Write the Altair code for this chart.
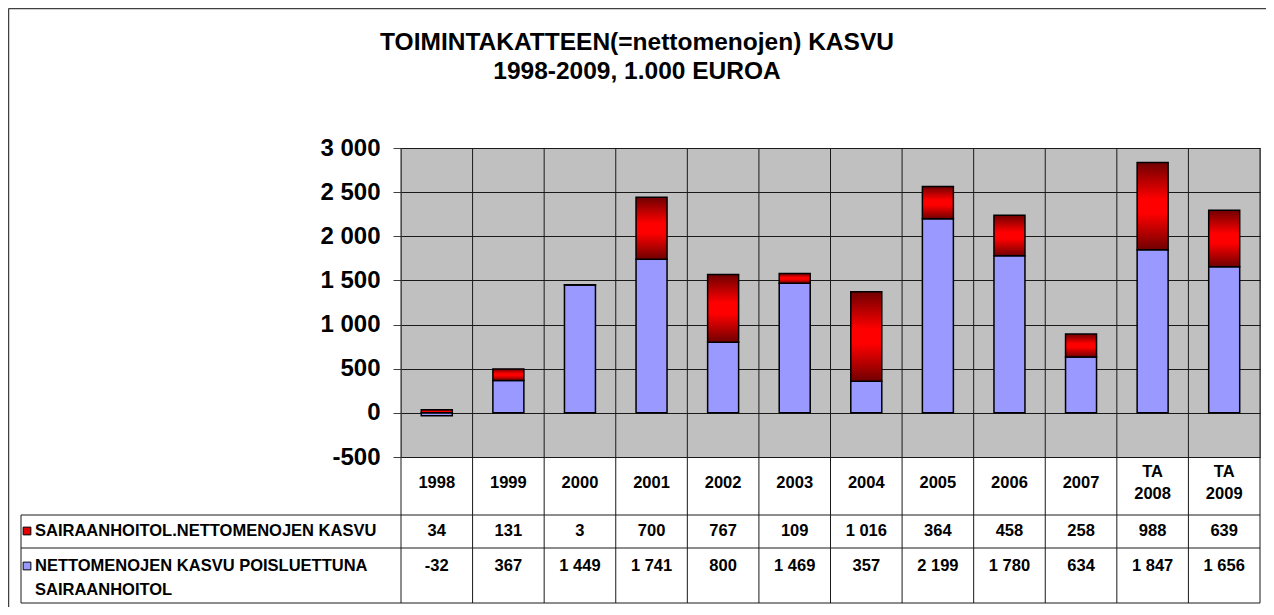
import altair as alt
import pandas as pd

# ---- data -------------------------------------------------------------
categories = ["1998", "1999", "2000", "2001", "2002", "2003", "2004",
              "2005", "2006", "2007", "TA 2008", "TA 2009"]
header_labels = ["1998", "1999", "2000", "2001", "2002", "2003", "2004",
                 "2005", "2006", "2007", "TA\n2008", "TA\n2009"]
sairaanhoito = [34, 131, 3, 700, 767, 109, 1016, 364, 458, 258, 988, 639]
muut = [-32, 367, 1449, 1741, 800, 1469, 357, 2199, 1780, 634, 1847, 1656]
series_names = ["SAIRAANHOITOL.NETTOMENOJEN KASVU",
                "NETTOMENOJEN KASVU POISLUETTUNA\nSAIRAANHOITOL"]
title_lines = ["TOIMINTAKATTEEN(=nettomenojen) KASVU", "1998-2009, 1.000 EUROA"]
y_ticks = [-500, 0, 500, 1000, 1500, 2000, 2500, 3000]


def fmt(v):
    return f"{v:,}".replace(",", " ")


df = pd.DataFrame({
    "cat": categories,
    "hdr": header_labels,
    "red": sairaanhoito,
    "blue": muut,
    "red_lbl": [fmt(v) for v in sairaanhoito],
    "blue_lbl": [fmt(v) for v in muut],
})

FONT = "Liberation Sans"
W, H = 859, 309

xenc = alt.X("cat:N", sort=categories,
             scale=alt.Scale(paddingInner=0, paddingOuter=0), axis=None)
yscale = alt.Scale(domain=[-500, 3000], nice=False, zero=False)
yaxis = alt.Axis(values=y_ticks, title=None, domain=False,
                 labelExpr="replace(replace(format(datum.value, ','), ',', ' '), '\u2212', '-')",
                 labelFont=FONT, labelFontSize=24, labelFontWeight="bold",
                 labelColor="black", labelPadding=13, tickSize=8,
                 tickColor="#404040", grid=True, gridColor="#1a1a1a",
                 gridWidth=1)

base = alt.Chart(df)

# vertical grid / table column lines at band boundaries
vlines = base.mark_rule(color="#1a1a1a", strokeWidth=1).encode(
    x=alt.X("cat:N", sort=categories, bandPosition=0,
            scale=alt.Scale(paddingInner=0, paddingOuter=0), axis=None),
    y=alt.value(0), y2=alt.value(455))
right_line = alt.Chart(pd.DataFrame({"k": [0]})).mark_rule(
    color="#1a1a1a", strokeWidth=1).encode(
    x=alt.value(W), y=alt.value(0), y2=alt.value(455))

blue_bars = base.transform_calculate(zero="0").mark_bar(
    size=31, fill="#9999FF", stroke="black", strokeWidth=1.5).encode(
    x=xenc,
    y=alt.Y("blue:Q", scale=yscale, axis=yaxis),
    y2="zero:Q")

red_grad = alt.Gradient(
    gradient="linear", x1=0, x2=0, y1=0, y2=1,
    stops=[alt.GradientStop(color="#700000", offset=0),
           alt.GradientStop(color="#ff0000", offset=0.42),
           alt.GradientStop(color="#ff0000", offset=0.58),
           alt.GradientStop(color="#700000", offset=1)])
red_bars = base.transform_calculate(
    b0="max(datum.blue, 0)", b1="max(datum.blue, 0) + datum.red").mark_bar(
    size=31, fill=red_grad, stroke="black", strokeWidth=1.5).encode(
    x=xenc,
    y=alt.Y("b1:Q", scale=yscale, axis=yaxis),
    y2="b0:Q")

# table
txt = dict(font=FONT, fontSize=16.5, fontWeight="bold", color="black")
hdr_single = base.transform_filter("indexof(datum.hdr, '\\n') < 0").mark_text(
    baseline="middle", **txt).encode(
    x=xenc, y=alt.value(335), text="hdr:N")
hdr_double = base.transform_filter("indexof(datum.hdr, '\\n') >= 0").mark_text(
    baseline="middle", lineBreak="\n", lineHeight=22, **txt).encode(
    x=xenc, y=alt.value(324), text="hdr:N")
row1_text = base.mark_text(baseline="middle", **txt).encode(
    x=xenc, y=alt.value(383), text="red_lbl:N")
row2_text = base.mark_text(baseline="middle", **txt).encode(
    x=xenc, y=alt.value(418), text="blue_lbl:N")

lbl1 = alt.Chart(pd.DataFrame({"t": [series_names[0]]})).mark_text(
    align="left", baseline="middle", **txt).encode(
    x=alt.value(-366), y=alt.value(383), text="t:N")
lbl2 = alt.Chart(pd.DataFrame({"t": [series_names[1]]})).mark_text(
    align="left", baseline="middle", lineBreak="\n", lineHeight=24,
    **txt).encode(x=alt.value(-366), y=alt.value(418), text="t:N")

one = pd.DataFrame({"k": [0]})
sw1 = alt.Chart(one).mark_square(size=60, fill="#e00000", stroke="black",
                                 strokeWidth=1, opacity=1).encode(
    x=alt.value(-374), y=alt.value(383))
sw2 = alt.Chart(one).mark_square(size=60, fill="#9999FF", stroke="black",
                                 strokeWidth=1, opacity=1).encode(
    x=alt.value(-374), y=alt.value(418))

hl = []
for yy in (367, 400, 455):
    hl.append(alt.Chart(one).mark_rule(color="#1a1a1a", strokeWidth=1).encode(
        x=alt.value(-380), x2=alt.value(W), y=alt.value(yy)))
left_tbl = alt.Chart(one).mark_rule(color="#1a1a1a", strokeWidth=1).encode(
    x=alt.value(-380), y=alt.value(367), y2=alt.value(455))

# outer frame
frame_top = alt.Chart(one).mark_rule(color="#404040", strokeWidth=1.5).encode(
    x=alt.value(-392.5), x2=alt.value(W + 40), y=alt.value(-139.5))
frame_left = alt.Chart(one).mark_rule(color="#404040", strokeWidth=1.5).encode(
    x=alt.value(-392.5), y=alt.value(-139.5), y2=alt.value(H + 200))

# title
t1 = alt.Chart(pd.DataFrame({"t": [title_lines[0]]})).mark_text(
    align="center", baseline="middle", font=FONT, fontSize=24.5,
    fontWeight="bold", color="black").encode(
    x=alt.value(236), y=alt.value(-105), text="t:N")
t2 = alt.Chart(pd.DataFrame({"t": [title_lines[1]]})).mark_text(
    align="center", baseline="middle", font=FONT, fontSize=24.5,
    fontWeight="bold", color="black").encode(
    x=alt.value(236), y=alt.value(-76), text="t:N")

chart = alt.layer(
    vlines, right_line, blue_bars, red_bars,
    hdr_single, hdr_double, row1_text, row2_text, lbl1, lbl2, sw1, sw2,
    *hl, left_tbl, frame_top, frame_left, t1, t2,
).properties(
    width=W, height=H,
    autosize=alt.AutoSizeParams(type="none"),
    padding={"left": 393, "top": 140, "right": 6, "bottom": 150},
).configure(
    background="white",
    view=alt.ViewConfig(fill="#C0C0C0", stroke="#808080", strokeWidth=1),
)

chart.save("out.html", embed_options={"renderer": "svg", "actions": False})
